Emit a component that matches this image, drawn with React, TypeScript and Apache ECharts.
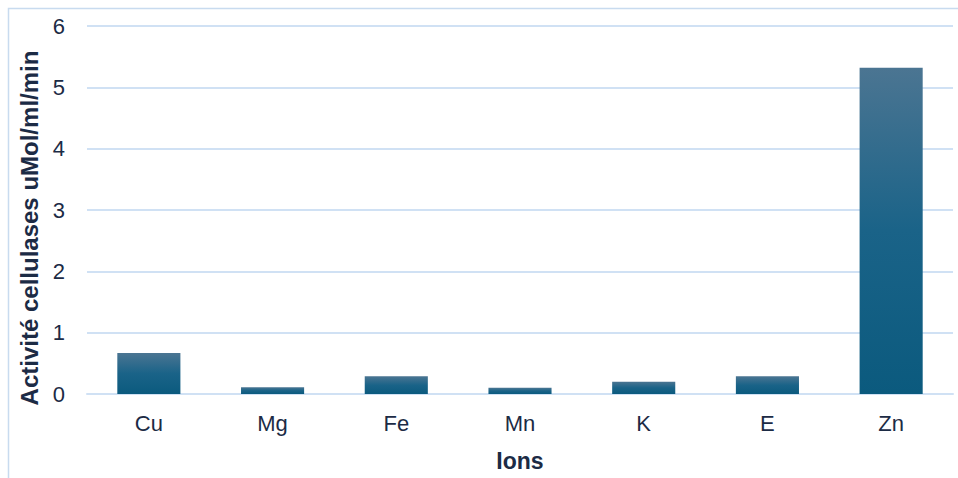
import React, { useEffect, useRef } from "react";
import * as echarts from "echarts";

const categories = ["Cu", "Mg", "Fe", "Mn", "K", "E", "Zn"];
const activity = [0.67, 0.11, 0.29, 0.1, 0.2, 0.29, 5.32];
const yTicks = { min: 0, max: 6, interval: 1 };

export default function App() {
  const ref = useRef<HTMLDivElement>(null);
  useEffect(() => {
    if (!ref.current) return;
    const chart = echarts.init(ref.current, null, { renderer: "svg" });
    const textColor = "#1c2b45";
    const gridColor = "#d0e1f4";
    chart.setOption({
      animation: false,
      backgroundColor: "#ffffff",
      textStyle: { fontFamily: "Liberation Sans, Arial, sans-serif" },
      graphic: [
        {
          type: "rect",
          shape: { x: 8.5, y: 8.5, width: 1200, height: 1200 },
          style: { fill: "none", stroke: "#c8dbef", lineWidth: 1.5 },
          silent: true,
        },
      ],
      grid: { left: 87, right: 5, top: 26, bottom: 84 },
      xAxis: {
        type: "category",
        data: categories,
        axisLine: { show: true, lineStyle: { color: gridColor, width: 2 } },
        axisTick: { show: false },
        axisLabel: { color: textColor, fontSize: 22, margin: 18 },
        name: "Ions",
        nameLocation: "middle",
        nameGap: 55,
        nameTextStyle: { color: textColor, fontSize: 23, fontWeight: "bold" },
      },
      yAxis: {
        type: "value",
        min: yTicks.min,
        max: yTicks.max,
        interval: yTicks.interval,
        axisLine: { show: false },
        axisTick: { show: false },
        splitLine: { lineStyle: { color: gridColor, width: 2 } },
        axisLabel: { color: textColor, fontSize: 22, margin: 22 },
        name: "Activité cellulases uMol/ml/min",
        nameLocation: "middle",
        nameGap: 45,
        nameTextStyle: {
          color: textColor,
          fontSize: 24,
          fontWeight: "bold",
          padding: [0, 36, 0, 0],
        },
      },
      series: [
        {
          type: "bar",
          data: activity,
          barWidth: "51%",
          itemStyle: {
            color: new echarts.graphic.LinearGradient(0, 0, 0, 1, [
              { offset: 0, color: "#4b7592" },
              { offset: 0.5, color: "#1a6388" },
              { offset: 1, color: "#0b5a7e" },
            ]),
          },
        },
      ],
    });
    return () => chart.dispose();
  }, []);
  return <div ref={ref} style={{ width: 958, height: 478, position: "absolute", left: 0, top: 0 }} />;
}
